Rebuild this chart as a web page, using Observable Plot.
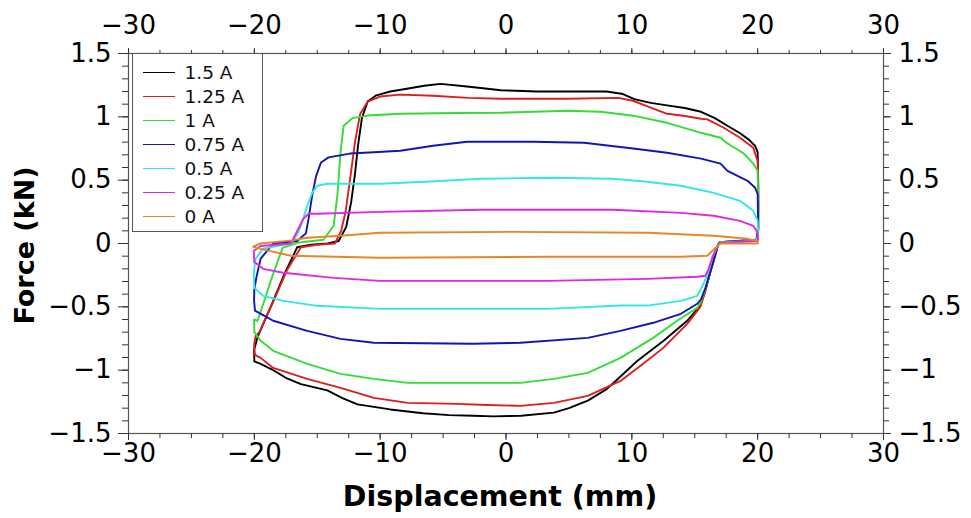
<!DOCTYPE html>
<html><head><meta charset="utf-8">
<script src="https://cdn.jsdelivr.net/npm/d3@7"></script>
<script src="https://cdn.jsdelivr.net/npm/@observablehq/plot@0.6"></script>
<style>
body{margin:0;background:#fff;}
#wrap{position:relative;width:971px;height:518px;font-family:"DejaVu Sans",sans-serif;}
#legend{position:absolute;left:132px;top:53px;width:129px;height:177px;border:1.5px solid #555;background:#fff;}
.row{position:absolute;left:0;height:22px;display:flex;align-items:center;font-size:18.5px;color:#111;white-space:nowrap;}
.sw{width:32px;height:0;border-top:1.5px solid;margin-left:9.5px;margin-right:10px;}
</style></head><body><div id="wrap"></div>
<script>
const labels = ["1.5 A","1.25 A","1 A","0.75 A","0.5 A","0.25 A","0 A"];
const palette = ["#000000","#dc1e1e","#33dd33","#1414b4","#33e6e6","#e028e0","#e6862a"];

const loop150 = [[-20.0,-0.93],[-20.02,-0.84],[-19.75,-0.74],[-18.7,-0.50],[-17.6,-0.24],[-16.6,-0.03],[-15.5,-0.01],[-14.2,0.0],[-13.3,0.02],[-12.7,0.13],[-12.3,0.33],[-12.0,0.55],[-11.75,0.78],[-11.45,0.99],[-11.0,1.12],[-10.3,1.17],[-9.2,1.20],[-8.0,1.22],[-6.5,1.245],[-5.2,1.26],[-3.1,1.24],[-0.4,1.21],[2.5,1.20],[5.0,1.20],[8.0,1.20],[9.3,1.18],[10.2,1.14],[11.5,1.11],[12.8,1.09],[14.2,1.07],[15.5,1.04],[16.6,0.99],[17.6,0.93],[18.6,0.87],[19.3,0.82],[19.8,0.77],[20.0,0.72],[20.05,0.45],[20.05,0.12],[19.9,0.03],[18.5,0.02],[17.0,0.01],[16.85,-0.01],[16.6,-0.1],[16.25,-0.22],[15.85,-0.37],[15.45,-0.49],[14.4,-0.61],[12.5,-0.77],[10.4,-0.93],[9.1,-1.05],[8.0,-1.15],[6.5,-1.24],[5.0,-1.30],[3.8,-1.335],[1.2,-1.36],[-1.0,-1.365],[-2.6,-1.36],[-4.5,-1.355],[-6.6,-1.34],[-9.2,-1.31],[-11.8,-1.27],[-13.0,-1.22],[-14.2,-1.16],[-16.3,-1.11],[-17.5,-1.06],[-18.5,-1.0],[-19.5,-0.95],[-20.0,-0.93]];

const loop125 = [[-19.95,-0.88],[-20.02,-0.80],[-19.9,-0.73],[-19.6,-0.70],[-18.5,-0.46],[-17.4,-0.21],[-16.3,-0.03],[-15.0,-0.01],[-13.6,0.0],[-13.1,0.10],[-12.75,0.25],[-12.4,0.50],[-12.0,0.80],[-11.6,1.02],[-11.0,1.12],[-10.0,1.16],[-8.4,1.175],[-5.8,1.167],[-3.0,1.15],[-0.4,1.143],[4.9,1.143],[8.9,1.15],[10.1,1.127],[11.5,1.072],[12.8,1.024],[14.1,1.009],[15.5,0.985],[16.0,0.98],[17.3,0.914],[18.6,0.835],[19.65,0.756],[19.9,0.68],[20.0,0.65],[20.05,0.3],[20.0,0.03],[18.5,0.015],[17.0,0.01],[16.85,-0.01],[16.6,-0.1],[16.25,-0.22],[15.85,-0.37],[15.45,-0.5],[14.4,-0.634],[12.5,-0.824],[10.9,-0.95],[9.1,-1.085],[6.5,-1.203],[3.8,-1.258],[1.15,-1.282],[-1.5,-1.275],[-3.85,-1.266],[-7.8,-1.258],[-10.5,-1.219],[-13.15,-1.14],[-15.8,-1.069],[-18.5,-0.982],[-19.5,-0.903],[-19.95,-0.88]];

const loop100 = [[-20.0,-0.70],[-20.02,-0.60],[-19.75,-0.61],[-19.2,-0.45],[-18.7,-0.295],[-17.75,-0.034],[-16.6,0.006],[-14.5,0.03],[-13.7,0.14],[-13.4,0.38],[-13.15,0.72],[-12.9,0.93],[-12.2,0.99],[-11.0,1.01],[-8.4,1.024],[-4.0,1.03],[-0.4,1.032],[4.9,1.048],[7.5,1.04],[10.1,1.009],[12.8,0.953],[15.5,0.874],[17.05,0.835],[17.6,0.79],[18.9,0.71],[19.65,0.63],[20.0,0.574],[20.05,0.3],[20.0,0.03],[17.0,0.01],[16.85,-0.01],[16.6,-0.1],[16.25,-0.22],[15.85,-0.36],[15.45,-0.47],[15.2,-0.508],[13.6,-0.61],[11.7,-0.745],[9.1,-0.903],[6.5,-1.021],[3.8,-1.069],[1.15,-1.10],[-2.6,-1.10],[-7.8,-1.10],[-10.5,-1.069],[-13.15,-1.029],[-15.8,-0.95],[-18.5,-0.847],[-19.5,-0.768],[-20.0,-0.70]];

const loop075 = [[-19.95,-0.53],[-20.02,-0.45],[-20.0,-0.36],[-19.8,-0.25],[-19.5,-0.12],[-18.5,0.0],[-16.6,0.02],[-15.9,0.08],[-15.7,0.19],[-15.4,0.38],[-15.1,0.53],[-14.7,0.64],[-14.1,0.68],[-12.4,0.71],[-10.5,0.72],[-8.4,0.732],[-5.8,0.772],[-3.1,0.803],[2.2,0.803],[6.2,0.795],[10.1,0.75],[12.8,0.716],[15.5,0.67],[17.05,0.63],[17.6,0.574],[19.2,0.495],[19.8,0.44],[20.0,0.39],[20.05,0.1],[19.9,0.03],[17.0,0.01],[16.85,-0.01],[16.6,-0.1],[16.25,-0.22],[15.85,-0.35],[15.5,-0.44],[15.2,-0.476],[13.9,-0.555],[11.7,-0.626],[9.1,-0.69],[6.5,-0.745],[1.15,-0.784],[-2.6,-0.792],[-10.5,-0.784],[-13.15,-0.753],[-15.8,-0.69],[-18.5,-0.61],[-19.3,-0.565],[-19.95,-0.53]];

const loop050 = [[-20.0,-0.35],[-20.05,-0.24],[-19.9,-0.12],[-19.3,-0.04],[-17.1,0.0],[-16.6,0.07],[-16.3,0.14],[-15.8,0.298],[-15.4,0.40],[-15.0,0.456],[-14.2,0.472],[-10.0,0.472],[-6.0,0.49],[-2.0,0.511],[3.3,0.519],[8.5,0.511],[11.0,0.49],[13.9,0.456],[16.5,0.40],[18.6,0.337],[19.65,0.258],[20.0,0.18],[20.05,0.06],[19.8,0.02],[17.05,0.01],[16.8,-0.02],[16.4,-0.11],[16.1,-0.216],[15.7,-0.318],[15.2,-0.413],[13.9,-0.453],[11.25,-0.49],[9.1,-0.49],[3.3,-0.516],[-10.0,-0.516],[-15.0,-0.492],[-17.7,-0.453],[-19.3,-0.413],[-20.0,-0.35]];

const loop025 = [[-20.0,-0.15],[-20.05,-0.06],[-19.5,-0.02],[-17.1,0.0],[-16.5,0.116],[-16.1,0.195],[-15.7,0.235],[-15.0,0.235],[-10.0,0.25],[-2.0,0.266],[8.5,0.266],[13.9,0.242],[16.5,0.219],[18.6,0.179],[19.65,0.14],[20.0,0.085],[20.0,0.02],[17.05,0.006],[16.8,-0.02],[16.4,-0.11],[16.1,-0.2],[15.85,-0.255],[15.2,-0.263],[11.25,-0.279],[3.3,-0.295],[-10.0,-0.295],[-13.7,-0.271],[-17.7,-0.231],[-19.3,-0.2],[-19.9,-0.152],[-20.0,-0.15]];

const loop000 = [[-20.0,-0.02],[-19.5,0.0],[-17.0,0.025],[-15.8,0.045],[-13.15,0.061],[-10.0,0.085],[0.6,0.092],[11.25,0.085],[16.5,0.061],[19.2,0.037],[20.0,0.021],[20.0,0.0],[17.05,0.0],[16.8,-0.02],[16.25,-0.073],[16.0,-0.097],[13.9,-0.105],[3.3,-0.105],[-10.0,-0.113],[-17.1,-0.097],[-19.5,-0.042],[-20.1,-0.025],[-20.0,-0.02]];

const majorX = [-30,-20,-10,0,10,20,30];
const majorY = [-1.5,-1,-0.5,0,0.5,1,1.5];
const minorX = d3.range(-30, 30.01, 2.5);
const minorY = d3.range(-15, 15.01, 1).map(d => d / 10);

const loops = [loop150, loop125, loop100, loop075, loop050, loop025, loop000];
const rows = loops.flatMap((pts, i) => pts.map(([x, y]) => ({x, y, s: labels[i]})));

const fmt = d => d < 0 ? "\u2212" + Math.abs(d) : String(d);
const tickStroke = "#333";
const tickFont = 26;

const chart = Plot.plot({
  width: 971, height: 518,
  marginLeft: 128, marginRight: 88, marginTop: 53, marginBottom: 85,
  style: {fontFamily: "'DejaVu Sans', sans-serif", background: "#fff", color: "#000", overflow: "visible"},
  x: {domain: [-30, 30], label: null},
  y: {domain: [-1.5, 1.5], label: null},
  color: {domain: labels, range: palette},
  marks: [
    Plot.line(rows, {x: "x", y: "y", z: "s", stroke: "s", strokeWidth: 1.9}),
    Plot.frame({stroke: "#555", strokeWidth: 1.2}),
    Plot.axisX({anchor: "bottom", ticks: minorX, tickSize: 5, tickFormat: () => "", stroke: tickStroke, label: null}),
    Plot.axisX({anchor: "top", ticks: minorX, tickSize: 4, tickFormat: () => "", stroke: tickStroke, label: null}),
    Plot.axisY({anchor: "left", ticks: minorY, tickSize: 6, tickFormat: () => "", stroke: tickStroke, label: null}),
    Plot.axisY({anchor: "right", ticks: minorY, tickSize: 5, tickFormat: () => "", stroke: tickStroke, label: null}),
    Plot.axisX({anchor: "bottom", ticks: majorX, tickSize: 7, tickPadding: 3, tickFormat: fmt, fontSize: tickFont, stroke: tickStroke, label: null}),
    Plot.axisX({anchor: "top", ticks: majorX, tickSize: 6, tickPadding: 14, tickFormat: fmt, fontSize: tickFont, stroke: tickStroke, label: null}),
    Plot.axisY({anchor: "left", ticks: majorY, tickSize: 10, tickPadding: 7, tickFormat: fmt, fontSize: tickFont, stroke: tickStroke, label: null}),
    Plot.axisY({anchor: "right", ticks: majorY, tickSize: 7, tickPadding: 8, tickFormat: fmt, fontSize: tickFont, stroke: tickStroke, label: null}),
    Plot.text(["Displacement (mm)"], {text: d => d, frameAnchor: "bottom", dy: 63, dx: -6, fontSize: 28.5, fontWeight: "bold", lineAnchor: "middle", textAnchor: "middle"}),
    Plot.text(["Force (kN)"], {text: d => d, frameAnchor: "left", dx: -103, dy: 2, rotate: -90, fontSize: 27, fontWeight: "bold", lineAnchor: "middle", textAnchor: "middle"})
  ]
});

const wrap = document.getElementById("wrap");
wrap.appendChild(chart);

const legend = document.createElement("div");
legend.id = "legend";
labels.forEach((lab, i) => {
  const row = document.createElement("div");
  row.className = "row";
  row.style.top = (18 + i * 24 - 11) + "px";
  const sw = document.createElement("span");
  sw.className = "sw";
  sw.style.borderTopColor = palette[i];
  const tx = document.createElement("span");
  tx.textContent = lab;
  row.appendChild(sw);
  row.appendChild(tx);
  legend.appendChild(row);
});
wrap.appendChild(legend);
</script>
</body></html>
